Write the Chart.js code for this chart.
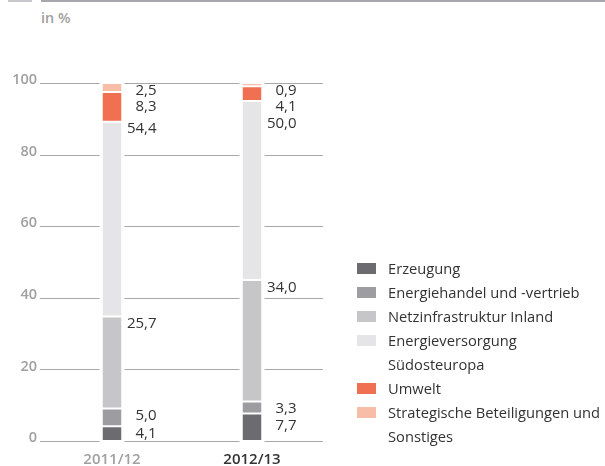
<!DOCTYPE html>
<html>
<head>
<meta charset="utf-8">
<script src="https://cdn.jsdelivr.net/npm/chart.js@4.4.0/dist/chart.umd.min.js"></script>
<style>
  html, body { margin: 0; padding: 0; background: #fff; }
  #wrap { position: relative; width: 605px; height: 466px; overflow: hidden; font-family: 'Open Sans', sans-serif; }
  #chart { position: absolute; left: 0; top: 0; }
  .rule { position: absolute; top: 0; height: 2px; }
  #unit { position: absolute; left: 41px; top: 8px; font-size: 14.5px; font-weight: 600; color: #a0a0a0; }
  #legend { position: absolute; left: 357px; top: 256px; font-size: 14.7px; color: #333; }
  .item { display: flex; align-items: flex-start; line-height: 24px; }
  .box { width: 19px; height: 11px; margin-top: 7px; margin-right: 12px; flex: none; }
  .txt { white-space: pre-line; }
</style>
</head>
<body>
<div id="wrap">
  <div class="rule" style="left:8px;width:24px;background:#c8c8cc"></div>
  <div class="rule" style="left:41px;width:564px;background:#a6a6ac"></div>
  <div id="unit">in %</div>
  <canvas id="chart" width="605" height="466"></canvas>
  <div id="legend"></div>
</div>
<script>
const years = ['2011/12', '2012/13'];
const segments = [
  'Erzeugung',
  'Energiehandel und -vertrieb',
  'Netzinfrastruktur Inland',
  'Energieversorgung\nSüdosteuropa',
  'Umwelt',
  'Strategische Beteiligungen und\nSonstiges'
];
const erzeugung = [4.1, 7.7];
const energiehandel = [5.0, 3.3];
const netz = [25.7, 34.0];
const suedosteuropa = [54.4, 50.0];
const umwelt = [8.3, 4.1];
const strategisch = [2.5, 0.9];
const colors = ['#6b6b70', '#9d9da1', '#c6c6c8', '#e5e5e7', '#f07052', '#f8bda6'];
const seriesValues = [erzeugung, energiehandel, netz, suedosteuropa, umwelt, strategisch];

// legend as html, the canvas legend can't do the two-line entries
const legend = document.getElementById('legend');
segments.forEach((name, i) => {
  const row = document.createElement('div');
  row.className = 'item';
  row.innerHTML = '<div class="box" style="background:' + colors[i] + '"></div><div class="txt"></div>';
  row.querySelector('.txt').textContent = name;
  legend.appendChild(row);
});

const fmt = v => v.toFixed(1).replace('.', ',');

// gridlines with a gap round each bar
const gapGrid = {
  id: 'gapGrid',
  beforeDatasetsDraw(chart) {
    const ctx = chart.ctx;
    const y = chart.scales.y;
    const bars = chart.getDatasetMeta(0).data;
    ctx.save();
    ctx.strokeStyle = '#a8a8a8';
    ctx.lineWidth = 1;
    y.ticks.forEach(t => {
      const py = Math.round(y.getPixelForValue(t.value)) + 0.5;
      let x0 = 40;
      bars.forEach(b => {
        const left = b.x - b.width / 2 - 3;
        ctx.beginPath();
        ctx.moveTo(x0, py);
        ctx.lineTo(left, py);
        ctx.stroke();
        x0 = b.x + b.width / 2 + 3;
      });
      ctx.beginPath();
      ctx.moveTo(x0, py);
      ctx.lineTo(323, py);
      ctx.stroke();
    });
    ctx.restore();
  }
};

// value labels right of each bar, pushed down when they would overlap
const sideLabels = {
  id: 'sideLabels',
  afterDatasetsDraw(chart) {
    const ctx = chart.ctx;
    ctx.save();
    ctx.font = '15px "Open Sans"';
    ctx.fillStyle = '#333';
    ctx.textAlign = 'right';
    ctx.textBaseline = 'middle';
    years.forEach((yr, i) => {
      let prev = -100;
      for (let d = chart.data.datasets.length - 1; d >= 0; d--) {
        const el = chart.getDatasetMeta(d).data[i];
        let ly = Math.max(el.y + 7.5, prev + 16.5);
        ctx.fillText(fmt(chart.data.datasets[d].data[i]), el.x + el.width / 2 + 35, ly);
        prev = ly;
      }
    });
    ctx.restore();
  }
};

new Chart(document.getElementById('chart'), {
  type: 'bar',
  data: {
    labels: years,
    datasets: segments.map((name, i) => ({
      label: name,
      data: seriesValues[i],
      backgroundColor: colors[i],
      borderColor: '#fff',
      borderWidth: { top: 1, bottom: 1, left: 0, right: 0 },
      borderSkipped: false,
      barThickness: 19,
      inflateAmount: 0
    }))
  },
  options: {
    responsive: false,
    animation: false,
    layout: { padding: { top: 83, right: 283, bottom: 0, left: 0 } },
    plugins: { legend: { display: false }, tooltip: { enabled: false } },
    scales: {
      x: {
        stacked: true,
        grid: { display: false, drawTicks: false },
        border: { display: false },
        ticks: {
          padding: 10,
          font: { family: 'Open Sans', size: 15, weight: '600' },
          color: c => c.index === 1 ? '#333' : '#a0a0a0'
        },
        afterFit: s => { s.height = 25; }
      },
      y: {
        stacked: true,
        min: 0,
        max: 100,
        grid: { display: false, drawTicks: false },
        border: { display: false },
        ticks: {
          stepSize: 20,
          padding: 5,
          labelOffset: -3,
          font: { family: 'Open Sans', size: 14.5, weight: '600' },
          color: '#a0a0a0'
        },
        afterFit: s => { s.width = 42; }
      }
    }
  },
  plugins: [gapGrid, sideLabels]
});
</script>
</body>
</html>
